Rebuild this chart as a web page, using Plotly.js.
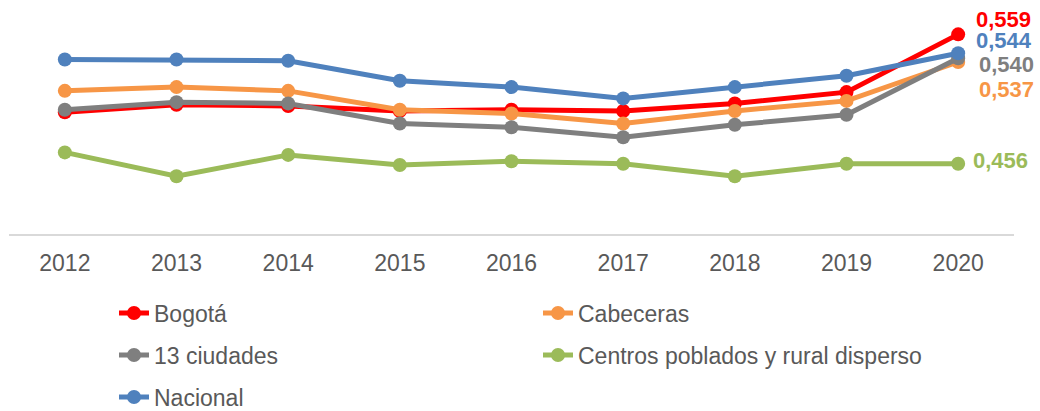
<!DOCTYPE html>
<html>
<head>
<meta charset="utf-8">
<script src="https://cdn.plot.ly/plotly-3.0.1.min.js"></script>
<style>html,body{margin:0;padding:0;background:#fff;}#chart{width:1040px;height:411px;}</style>
</head>
<body>
<div id="chart"></div>
<script>
// ---- data ----
const years = ["2012","2013","2014","2015","2016","2017","2018","2019","2020"];
const seriesNames = ["Bogotá","Cabeceras","13 ciudades","Centros poblados y rural disperso","Nacional"];
const bogota    = [0.497, 0.503, 0.502, 0.498, 0.499, 0.498, 0.504, 0.513, 0.559];
const cabeceras = [0.514, 0.517, 0.514, 0.499, 0.496, 0.488, 0.498, 0.506, 0.537];
const ciudades13= [0.499, 0.505, 0.504, 0.488, 0.485, 0.477, 0.487, 0.495, 0.540];
const rural     = [0.465, 0.446, 0.463, 0.455, 0.458, 0.456, 0.446, 0.456, 0.456];
const nacional  = [0.539, 0.539, 0.538, 0.522, 0.517, 0.508, 0.517, 0.526, 0.544];

// ---- style ----
const allValues = [bogota, cabeceras, ciudades13, rural, nacional];
const colors = ["#FF0000", "#F79646", "#7F7F7F", "#9BBB59", "#4F81BD"];
const legendIds = ["legend", "legend", "legend2", "legend2", "legend3"];
// label offsets (px) for the last-point value labels
const labelShiftX = [16, 19, 19, 13, 16];
const labelShiftY = [15, -28, -6, 3, 13];

const font = "Liberation Sans, Arial, sans-serif";
const textColor = "#595959";

const traces = allValues.map((vals, i) => ({
  type: "scatter",
  mode: "lines+markers",
  name: seriesNames[i],
  x: years,
  y: vals,
  line: {color: colors[i], width: 5},
  marker: {color: colors[i], size: 14},
  legend: legendIds[i],
  cliponaxis: false,
  hoverinfo: "skip"
}));

const last = years.length - 1;
const annotations = allValues.map((vals, i) => ({
  x: last,
  y: vals[last],
  xref: "x",
  yref: "y",
  text: "<b>" + vals[last].toFixed(3).replace(".", ",") + "</b>",
  showarrow: false,
  xanchor: "left",
  yanchor: "middle",
  xshift: labelShiftX[i],
  yshift: labelShiftY[i],
  font: {family: font, size: 22, color: colors[i]}
}));

function legendCfg(yPix) {
  return {
    orientation: "h",
    xref: "container", yref: "container",
    x: 114 / 1040, y: 1 - yPix / 411,
    xanchor: "left", yanchor: "middle",
    entrywidth: 379, entrywidthmode: "pixels",
    font: {family: font, size: 23, color: textColor},
    bgcolor: "rgba(0,0,0,0)",
    itemclick: false, itemdoubleclick: false
  };
}

const layout = {
  width: 1040, height: 411,
  margin: {l: 9, r: 26, t: 8, b: 177},
  paper_bgcolor: "#ffffff",
  plot_bgcolor: "#ffffff",
  showlegend: true,
  legend: legendCfg(313),
  legend2: legendCfg(355),
  legend3: legendCfg(397),
  xaxis: {
    type: "category",
    range: [-0.5, 8.5],
    showgrid: false,
    zeroline: false,
    showline: true,
    linecolor: "#D9D9D9",
    linewidth: 1.5,
    ticks: "",
    ticklabelstandoff: 8,
    tickfont: {family: font, size: 23, color: textColor},
    fixedrange: true
  },
  yaxis: {
    range: [0.40, 0.58],
    visible: false,
    showgrid: false,
    zeroline: false,
    fixedrange: true
  },
  annotations: annotations
};

Plotly.newPlot("chart", traces, layout, {displayModeBar: false, staticPlot: true});
</script>
</body>
</html>
